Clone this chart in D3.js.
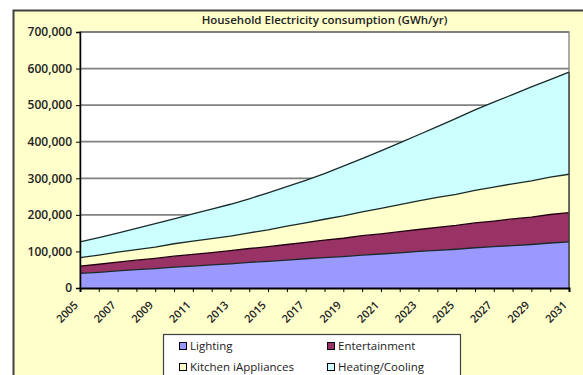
<!DOCTYPE html>
<html>
<head>
<meta charset="utf-8">
<script src="https://cdn.jsdelivr.net/npm/d3@7"></script>
<style>
  body { margin: 0; background: #ffffff; }
  #chart { width: 583px; height: 375px; overflow: hidden; }
</style>
</head>
<body>
<div id="chart"></div>
<script>
// Years on the category axis
const years = [2005, 2006, 2007, 2008, 2009, 2010, 2011, 2012, 2013, 2014, 2015, 2016, 2017, 2018,
               2019, 2020, 2021, 2022, 2023, 2024, 2025, 2026, 2027, 2028, 2029, 2030, 2031];

// Series names (legend order)
const seriesNames = ["Lighting", "Entertainment", "Kitchen iAppliances", "Heating/Cooling"];

// Series values, GWh/yr (stacked in this order)
const lighting = [40000, 43000, 47000, 50000, 53000, 57000, 60000, 63000, 66000, 70000, 73000, 76000, 80000, 83000,
                  86000, 90000, 93000, 96000, 100000, 103000, 106000, 110000, 113000, 116000, 119000, 123000, 126000];
const entertainment = [20000, 22000, 24000, 26000, 28000, 30000, 32000, 34000, 36000, 38000, 40000, 43000, 45000, 48000,
                       50000, 53000, 55000, 58000, 60000, 63000, 65000, 68000, 70000, 73000, 75000, 78000, 80000];
const kitchen = [23000, 25000, 27000, 29000, 31000, 34000, 36000, 38000, 40000, 43000, 46000, 50000, 53000, 57000,
                 61000, 65000, 70000, 74000, 78000, 82000, 85000, 89000, 93000, 96000, 99000, 102000, 105000];
const heating = [43000, 48000, 52000, 58000, 64000, 68000, 75000, 81000, 87000, 93000, 101000, 108000, 116000, 125000,
                 136000, 146000, 157000, 169000, 181000, 193000, 208000, 220000, 232000, 244000, 257000, 267000, 279000];

// Axis ticks and labels
const yTicks = [0, 100000, 200000, 300000, 400000, 500000, 600000, 700000];
const xLabelYears = [2005, 2007, 2009, 2011, 2013, 2015, 2017, 2019, 2021, 2023, 2025, 2027, 2029, 2031];

const seriesColors = ["#9999ff", "#993366", "#ffffcc", "#ccffff"];

function draw_stacked_area(chartID) {
    const width = 583
    const height = 375
    const plot = { left: 80, right: 569, top: 32, bottom: 288 };

    d3.select(chartID).html("");

    const svg = d3.select(chartID)
        .append("svg")
        .attr("width", width)
        .attr("height", height)
        .style("display", "block");

    // Outer chart frame (pale yellow, runs off the right/bottom edge)
    svg.append("rect")
        .attr("x", 13.5)
        .attr("y", 10.5)
        .attr("width", 620)
        .attr("height", 420)
        .attr("fill", "#ffffcc")
        .attr("stroke", "#404040")
        .attr("stroke-width", 2);

    // Build table from the named arrays
    const table = years.map((y, i) => ({
        year: y,
        "Lighting": lighting[i],
        "Entertainment": entertainment[i],
        "Kitchen iAppliances": kitchen[i],
        "Heating/Cooling": heating[i]
    }));

    const stacked = d3.stack().keys(seriesNames)(table);

    const x = d3.scaleLinear()
        .domain(d3.extent(years))
        .range([plot.left, plot.right]);

    const y = d3.scaleLinear()
        .domain([0, 700000])
        .range([plot.bottom, plot.top]);

    // Plot area background
    svg.append("rect")
        .attr("x", plot.left)
        .attr("y", plot.top)
        .attr("width", plot.right - plot.left)
        .attr("height", plot.bottom - plot.top)
        .attr("fill", "#ffffff")
        .attr("stroke", "#909090")
        .attr("stroke-width", 1.5);

    // Horizontal gridlines
    svg.append("g")
        .selectAll("line")
        .data(yTicks.filter(d => d > 0))
        .enter()
        .append("line")
        .attr("x1", plot.left)
        .attr("x2", plot.right)
        .attr("y1", d => y(d))
        .attr("y2", d => y(d))
        .attr("stroke", "#808080")
        .attr("stroke-width", 1.8);

    // Stacked areas
    const area = d3.area()
        .x(d => x(d.data.year))
        .y0(d => y(d[0]))
        .y1(d => y(d[1]));

    const topLine = d3.line()
        .x(d => x(d.data.year))
        .y(d => y(d[1]));

    svg.append("g")
        .selectAll("path")
        .data(stacked)
        .enter()
        .append("path")
        .attr("d", area)
        .attr("fill", (d, i) => seriesColors[i]);

    svg.append("g")
        .selectAll("path")
        .data(stacked)
        .enter()
        .append("path")
        .attr("d", topLine)
        .attr("fill", "none")
        .attr("stroke", (d, i) => i == 1 ? "#200010" : "#1a2a2a")
        .attr("stroke-width", 1.3);

    // Right edge of plot area
    svg.append("line")
        .attr("x1", plot.right)
        .attr("x2", plot.right)
        .attr("y1", y(0))
        .attr("y2", y(stacked[3][stacked[3].length - 1][1]))
        .attr("stroke", "#404040")
        .attr("stroke-width", 1.5);

    // Y axis
    const yAxis = svg.append("g")
        .attr("transform", `translate(${plot.left},0)`)
        .call(d3.axisLeft(y)
            .tickValues(yTicks)
            .tickSize(4)
            .tickPadding(4)
            .tickFormat(d3.format(",")));

    yAxis.select(".domain").attr("stroke", "#000").attr("stroke-width", 1.5);
    yAxis.selectAll(".tick line").attr("stroke", "#000");
    yAxis.selectAll("text")
        .style("font-family", "'Open Sans', sans-serif")
        .style("font-size", "12px")
        .style("font-weight", "600")
        .attr("fill", "#222");

    // X axis: tick every year, label every two years
    const xAxis = svg.append("g")
        .attr("transform", `translate(0,${plot.bottom})`)
        .call(d3.axisBottom(x)
            .tickValues(years)
            .tickSize(4)
            .tickFormat(""));

    xAxis.select(".domain").attr("stroke", "#000").attr("stroke-width", 2);
    xAxis.selectAll(".tick line").attr("stroke", "#000");

    svg.append("g")
        .selectAll("text")
        .data(xLabelYears)
        .enter()
        .append("text")
        .attr("transform", d => `translate(${x(d) - 4}, ${plot.bottom + 15}) rotate(-45)`)
        .style("text-anchor", "end")
        .attr("dy", "0.35em")
        .style("font-family", "'Open Sans', sans-serif")
        .style("font-size", "11px")
        .style("font-weight", "600")
        .attr("fill", "#222")
        .text(d => d);

    // Title
    svg.append("text")
        .attr("x", (plot.left + plot.right) / 2)
        .attr("y", 24)
        .style("text-anchor", "middle")
        .style("font-family", "'Open Sans', sans-serif")
        .style("font-size", "11.5px")
        .style("font-weight", "600")
        .attr("fill", "#222")
        .text("Household Electricity consumption (GWh/yr)");

    // Legend box
    svg.append("rect")
        .attr("x", 163.5)
        .attr("y", 334.5)
        .attr("width", 297)
        .attr("height", 60)
        .attr("fill", "#ffffff")
        .attr("stroke", "#404040")
        .attr("stroke-width", 1.2);

    const legend = svg.selectAll(".legend")
        .data(seriesNames)
        .enter()
        .append("g")
        .attr("class", "legend")
        .attr("transform", (d, i) => `translate(${179 + (i % 2) * 148}, ${342 + Math.floor(i / 2) * 21})`);

    legend.append("rect")
        .attr("x", 0.5)
        .attr("y", 0.5)
        .attr("width", 7)
        .attr("height", 7)
        .attr("stroke", "#000")
        .attr("stroke-width", 1)
        .style("fill", (d, i) => seriesColors[i]);

    legend.append("text")
        .attr("x", 11)
        .attr("y", 4)
        .attr("dy", "0.35em")
        .style("text-anchor", "start")
        .style("font-family", "'Open Sans', sans-serif")
        .style("font-size", "11.5px")
        .attr("fill", "#222")
        .text(d => d);
}

draw_stacked_area("#chart");
</script>
</body>
</html>
